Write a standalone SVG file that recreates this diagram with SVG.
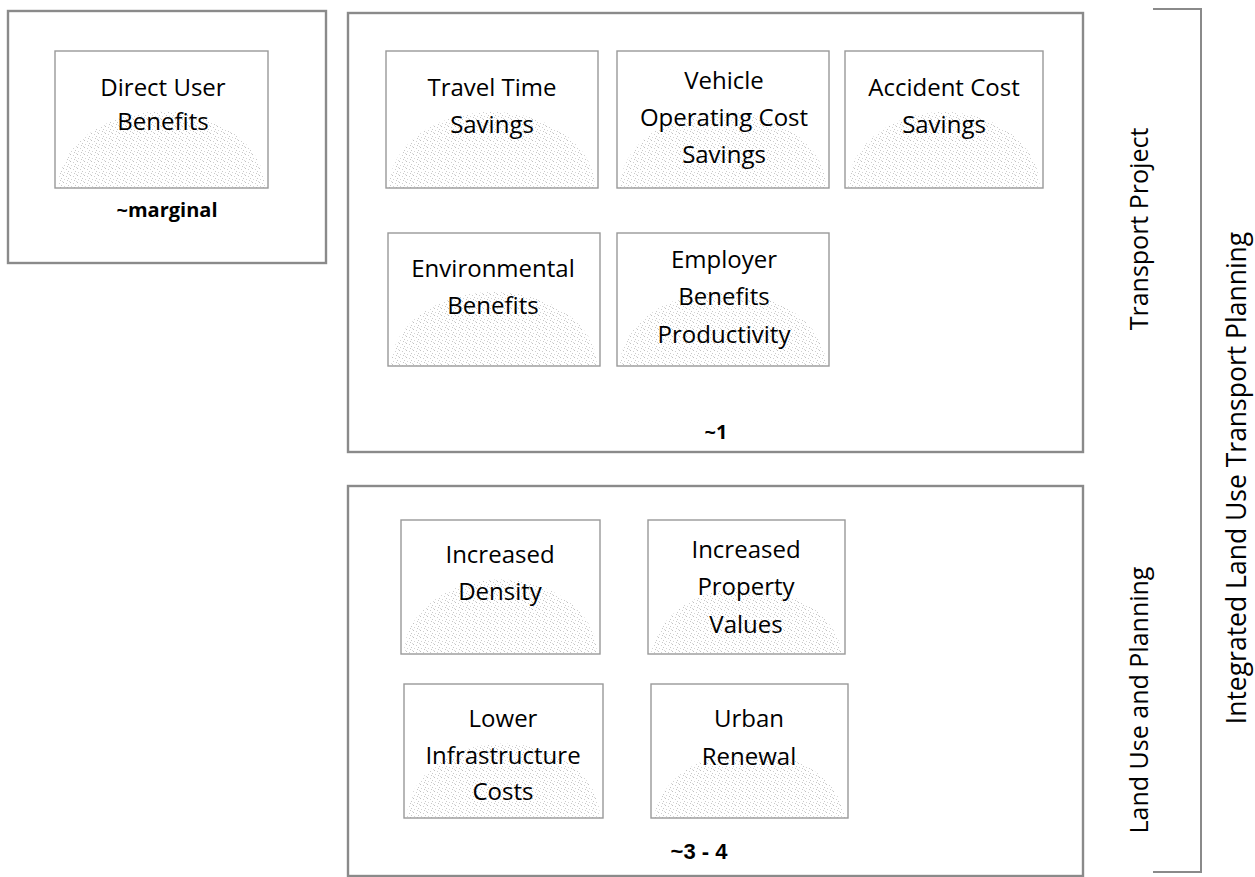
<svg xmlns="http://www.w3.org/2000/svg" width="1255" height="877" viewBox="0 0 1255 877">
  <defs>
    <!-- sparse halftone dots used for the shaded mound in each benefit box -->
    <pattern id="dots" width="7" height="7" patternUnits="userSpaceOnUse">
      <rect x="0" y="0" width="1" height="1" fill="#8f8f8f"/>
      <rect x="3" y="1" width="1" height="1" fill="#a8a8a8"/>
      <rect x="5" y="3" width="1" height="1" fill="#9c9c9c"/>
      <rect x="1" y="4" width="1" height="1" fill="#b0b0b0"/>
      <rect x="4" y="5" width="1" height="1" fill="#999999"/>
      <rect x="6" y="6" width="1" height="1" fill="#b8b8b8"/>
    </pattern>
  </defs>
  <style>
    .frame { fill: none; stroke: #8a8a8a; stroke-width: 2.4; }
    .box { fill: #ffffff; stroke: #999999; stroke-width: 1.4; }
    .shade { fill: url(#dots); opacity: 0.55; }
    .lbl { font-family: "Open Sans", "Liberation Sans", sans-serif; font-size: 24px; fill: #000; text-anchor: middle; }
    .note { font-family: "Open Sans", "Liberation Sans", sans-serif; font-size: 20px; font-weight: bold; fill: #000; text-anchor: middle; }
    .side { font-family: "Open Sans", "Liberation Sans", sans-serif; font-size: 25px; fill: #000; text-anchor: middle; }
    .bracket { fill: none; stroke: #8a8a8a; stroke-width: 2; }
  </style>

  <rect width="1255" height="877" fill="#ffffff"/>

  <!-- group frames -->
  <g id="group-marginal">
    <rect class="frame" x="8" y="11" width="318" height="252"/>
    <text class="note" x="167" y="217">~marginal</text>
  </g>
  <g id="group-transport-project">
    <rect class="frame" x="348" y="13" width="735" height="439"/>
    <text class="note" x="716" y="439">~1</text>
  </g>
  <g id="group-land-use">
    <rect class="frame" x="348" y="486" width="735" height="390"/>
    <text class="note" x="699" y="859" style="font-family:'Liberation Sans',sans-serif;font-size:22px">~3 - 4</text>
  </g>

  <!-- benefit boxes -->
  <g id="direct-user-benefits">
    <rect class="box" x="55" y="51" width="213" height="137"/>
    <path class="shade" d="M58,188 A103,76 0 0 1 265,188 Z"/>
    <text class="lbl" x="163" y="96">Direct User</text>
    <text class="lbl" x="163" y="130">Benefits</text>
  </g>
  <g id="travel-time-savings">
    <rect class="box" x="386" y="51" width="212" height="137"/>
    <path class="shade" d="M389,188 A103,76 0 0 1 595,188 Z"/>
    <text class="lbl" x="492" y="96">Travel Time</text>
    <text class="lbl" x="492" y="133">Savings</text>
  </g>
  <g id="vehicle-operating-cost-savings">
    <rect class="box" x="617" y="51" width="212" height="137"/>
    <path class="shade" d="M620,188 A103,76 0 0 1 826,188 Z"/>
    <text class="lbl" x="724" y="89">Vehicle</text>
    <text class="lbl" x="724" y="126">Operating Cost</text>
    <text class="lbl" x="724" y="163">Savings</text>
  </g>
  <g id="accident-cost-savings">
    <rect class="box" x="845" y="51" width="198" height="137"/>
    <path class="shade" d="M848,188 A96,76 0 0 1 1040,188 Z"/>
    <text class="lbl" x="944" y="96">Accident Cost</text>
    <text class="lbl" x="944" y="133">Savings</text>
  </g>
  <g id="environmental-benefits">
    <rect class="box" x="388" y="233" width="212" height="133"/>
    <path class="shade" d="M391,366 A103,74 0 0 1 597,366 Z"/>
    <text class="lbl" x="493" y="277">Environmental</text>
    <text class="lbl" x="493" y="314">Benefits</text>
  </g>
  <g id="employer-benefits-productivity">
    <rect class="box" x="617" y="233" width="212" height="133"/>
    <path class="shade" d="M620,366 A103,74 0 0 1 826,366 Z"/>
    <text class="lbl" x="724" y="268">Employer</text>
    <text class="lbl" x="724" y="305">Benefits</text>
    <text class="lbl" x="724" y="343">Productivity</text>
  </g>
  <g id="increased-density">
    <rect class="box" x="401" y="520" width="199" height="134"/>
    <path class="shade" d="M404,654 A96,74 0 0 1 597,654 Z"/>
    <text class="lbl" x="500" y="563">Increased</text>
    <text class="lbl" x="500" y="600">Density</text>
  </g>
  <g id="increased-property-values">
    <rect class="box" x="648" y="520" width="197" height="134"/>
    <path class="shade" d="M651,654 A96,74 0 0 1 842,654 Z"/>
    <text class="lbl" x="746" y="558">Increased</text>
    <text class="lbl" x="746" y="595">Property</text>
    <text class="lbl" x="746" y="633">Values</text>
  </g>
  <g id="lower-infrastructure-costs">
    <rect class="box" x="404" y="684" width="199" height="134"/>
    <path class="shade" d="M407,818 A96,74 0 0 1 600,818 Z"/>
    <text class="lbl" x="503" y="727">Lower</text>
    <text class="lbl" x="503" y="764">Infrastructure</text>
    <text class="lbl" x="503" y="800">Costs</text>
  </g>
  <g id="urban-renewal">
    <rect class="box" x="651" y="684" width="197" height="134"/>
    <path class="shade" d="M654,818 A96,74 0 0 1 845,818 Z"/>
    <text class="lbl" x="749" y="727">Urban</text>
    <text class="lbl" x="749" y="765">Renewal</text>
  </g>

  <!-- side labels and the overall bracket -->
  <g id="connectors">
    <path class="bracket" d="M1153,9 H1201 V872 H1153"/>
  </g>
  <g id="label-transport-project">
    <text class="side" transform="translate(1148,229) rotate(-90)">Transport Project</text>
  </g>
  <g id="label-land-use-planning">
    <text class="side" transform="translate(1148,700) rotate(-90)">Land Use and Planning</text>
  </g>
  <g id="label-integrated">
    <text class="side" transform="translate(1246,478) rotate(-90)" style="font-size:26.5px">Integrated Land Use Transport Planning</text>
  </g>
</svg>
